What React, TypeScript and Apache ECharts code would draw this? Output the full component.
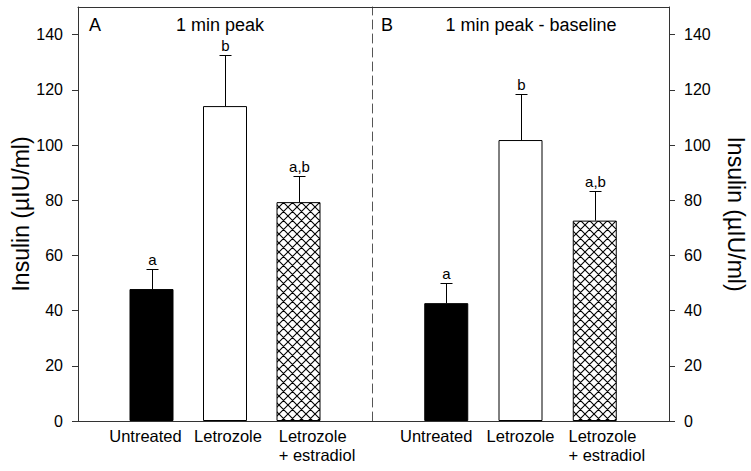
import React, { useEffect, useRef } from 'react';
import * as echarts from 'echarts';

const categories = ['Untreated', 'Letrozole', 'Letrozole\n+ estradiol'];
const peakMeans = [47.8, 114.1, 79.3];
const peakErrors = [7.4, 18.6, 9.4];
const peakLetters = ['a', 'b', 'a,b'];
const baselineMeans = [42.7, 101.8, 72.6];
const baselineErrors = [7.3, 16.7, 10.9];
const baselineLetters = ['a', 'b', 'a,b'];
const yTicks = [0, 20, 40, 60, 80, 100, 120, 140];
const panelTitles = ['1 min peak', '1 min peak - baseline'];
const panelLetters = ['A', 'B'];
const yName = 'Insulin (\u00b5IU/ml)';

const FONT = '"Liberation Sans", Arial, Helvetica, sans-serif';

function makeHatch(): HTMLCanvasElement {
  const c = document.createElement('canvas');
  c.width = 9;
  c.height = 9;
  const ctx = c.getContext('2d')!;
  ctx.fillStyle = '#fff';
  ctx.fillRect(0, 0, 9, 9);
  ctx.strokeStyle = '#000';
  ctx.lineWidth = 1.1;
  ctx.beginPath();
  for (const k of [-9, 0, 9]) {
    ctx.moveTo(k, 0);
    ctx.lineTo(k + 9, 9);
    ctx.moveTo(k + 9, 0);
    ctx.lineTo(k, 9);
  }
  ctx.stroke();
  return c;
}

export default function App() {
  const ref = useRef<HTMLDivElement>(null);
  useEffect(() => {
    if (!ref.current) return;
    const chart = echarts.init(ref.current, undefined, { renderer: 'svg' });
    const hatch = makeHatch();
    const barStyles = [
      { color: '#000', borderColor: '#000', borderWidth: 1 },
      { color: '#fff', borderColor: '#000', borderWidth: 1 },
      { color: { image: hatch, repeat: 'repeat' }, borderColor: '#000', borderWidth: 1 },
    ];

    const labelFormatter = (v: number) => {
      const i = Math.round(v) - 1;
      if (i < 0 || i > 2) return '';
      return `{c${i}|${categories[i]}}`;
    };
    const baseRich = { fontSize: 16.5, lineHeight: 19, color: '#000', fontFamily: FONT };
    const richLeft = {
      c0: { ...baseRich, padding: [0, 12, 0, 0] },
      c1: { ...baseRich, padding: [0, 0, 0, 6] },
      c2: { ...baseRich, align: 'left', padding: [0, 0, 0, 37] },
    };
    const richRight = {
      c0: { ...baseRich, padding: [0, 20, 0, 0] },
      c1: { ...baseRich },
      c2: { ...baseRich, align: 'left', padding: [0, 0, 0, 24] },
    };

    const axisColor = '#333';
    const bottomX = (gridIndex: number, rich: any) => ({
      gridIndex,
      type: 'value',
      min: 0,
      max: 4,
      interval: 1,
      position: 'bottom',
      axisLine: { show: true, onZero: false, lineStyle: { color: axisColor, width: 1 } },
      axisTick: { show: false },
      splitLine: { show: false },
      axisLabel: {
        formatter: labelFormatter,
        margin: 5,
        fontSize: 16.5,
        lineHeight: 19,
        color: '#000',
        fontFamily: FONT,
        rich,
      },
    });
    const topX = (gridIndex: number) => ({
      gridIndex,
      type: 'value',
      min: 0,
      max: 4,
      position: 'top',
      axisLine: { show: true, onZero: false, lineStyle: { color: axisColor, width: 1 } },
      axisTick: { show: false },
      axisLabel: { show: false },
      splitLine: { show: false },
    });
    const labeledY = (gridIndex: number, position: string, nameGap: number, nameRotate: number) => ({
      gridIndex,
      type: 'value',
      min: 0,
      max: 150,
      interval: 20,
      position,
      name: yName,
      nameLocation: 'middle',
      nameGap,
      nameRotate,
      nameTextStyle: { fontSize: 23, color: '#000', fontFamily: FONT },
      axisLine: { show: true, onZero: false, lineStyle: { color: axisColor, width: 1 } },
      axisTick: { show: true, inside: false, length: 6, customValues: yTicks, lineStyle: { color: axisColor } },
      axisLabel: {
        customValues: yTicks,
        margin: 15,
        fontSize: 16,
        color: '#000',
        fontFamily: FONT,
        formatter: (v: number) => (v > 140 ? '' : String(v)),
      },
      splitLine: { show: false },
    });

    const errorSeries = (xAxisIndex: number, yAxisIndex: number, means: number[], errs: number[], letters: string[]) => ({
      type: 'custom',
      xAxisIndex,
      yAxisIndex,
      z: 5,
      encode: { x: 0, y: 1 },
      data: means.map((m, i) => [i + 1, m, errs[i]]),
      renderItem: (params: any, api: any) => {
        const x = api.value(0);
        const m = api.value(1);
        const e = api.value(2);
        const top = api.coord([x, m + e]);
        const base = api.coord([x, m]);
        const cx = Math.round(top[0]) + 0.5;
        const ty = Math.round(top[1]) + 0.5;
        return {
          type: 'group',
          children: [
            { type: 'line', shape: { x1: cx, y1: base[1], x2: cx, y2: ty }, style: { stroke: '#000', lineWidth: 1 } },
            { type: 'line', shape: { x1: cx - 6, y1: ty, x2: cx + 6, y2: ty }, style: { stroke: '#000', lineWidth: 1 } },
            {
              type: 'text',
              x: cx,
              y: ty - 3,
              style: {
                text: letters[params.dataIndex],
                textAlign: 'center',
                textVerticalAlign: 'bottom',
                fontSize: 15,
                fill: '#000',
                fontFamily: FONT,
              },
            },
          ],
        };
      },
    });

    const barSeries = (xAxisIndex: number, yAxisIndex: number, means: number[]) => ({
      type: 'bar',
      xAxisIndex,
      yAxisIndex,
      barWidth: 44,
      data: means.map((v, i) => ({ value: [i + 1, v], itemStyle: barStyles[i] })),
    });

    chart.setOption({
      animation: false,
      grid: [
        { left: 78, top: 7, width: 294, height: 414 },
        { left: 372, top: 7, width: 297, height: 414 },
      ],
      xAxis: [bottomX(0, richLeft), topX(0), bottomX(1, richRight), topX(1)],
      yAxis: [
        labeledY(0, 'left', 42, 90),
        {
          gridIndex: 0,
          type: 'value',
          min: 0,
          max: 150,
          position: 'right',
          axisLine: { show: true, onZero: false, lineStyle: { color: '#555', type: [9, 5], width: 1 } },
          axisTick: { show: false },
          axisLabel: { show: false },
          splitLine: { show: false },
        },
        labeledY(1, 'right', 55, -90),
      ],
      series: [
        barSeries(0, 0, peakMeans),
        errorSeries(0, 0, peakMeans, peakErrors, peakLetters),
        barSeries(2, 2, baselineMeans),
        errorSeries(2, 2, baselineMeans, baselineErrors, baselineLetters),
      ],
      graphic: [
        { type: 'text', x: 89, y: 25, style: { text: panelLetters[0], fontSize: 18, fill: '#000', fontFamily: FONT, textVerticalAlign: 'middle' } },
        { type: 'text', x: 220, y: 25, style: { text: panelTitles[0], fontSize: 18, fill: '#000', fontFamily: FONT, textAlign: 'center', textVerticalAlign: 'middle' } },
        { type: 'text', x: 381, y: 25, style: { text: panelLetters[1], fontSize: 18, fill: '#000', fontFamily: FONT, textVerticalAlign: 'middle' } },
        { type: 'text', x: 531, y: 25, style: { text: panelTitles[1], fontSize: 18, fill: '#000', fontFamily: FONT, textAlign: 'center', textVerticalAlign: 'middle' } },
      ],
    });
    return () => chart.dispose();
  }, []);
  return <div ref={ref} style={{ position: 'fixed', left: 0, top: 0, width: 751, height: 471, background: '#fff' }} />;
}
